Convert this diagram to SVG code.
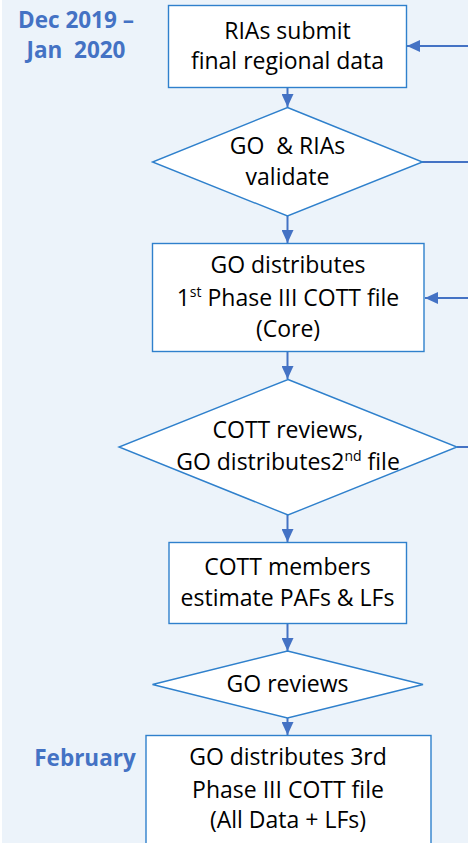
<svg xmlns="http://www.w3.org/2000/svg" width="468" height="843" viewBox="0 0 468 843">
<style>
.node{fill:#ffffff;stroke:#2f80cc;stroke-width:1.4}
.t{font-family:"Open Sans","Liberation Sans",sans-serif;font-size:23px;fill:#000;text-anchor:middle}
.lbl{font-family:"Open Sans","Liberation Sans",sans-serif;font-size:22.5px;font-weight:bold;fill:#4472c4;text-anchor:middle}
.c{stroke:#4472c4;stroke-width:2;fill:none}
.sup{font-size:14px}
</style>
<defs>
<marker id="ah" markerWidth="13" markerHeight="12" refX="13" refY="6" orient="auto" markerUnits="userSpaceOnUse">
<path d="M0,0 L13,6 L0,12 Z" fill="#4472c4"/>
</marker>
</defs>
<rect x="0" y="0" width="468" height="843" fill="#ffffff"/>
<rect x="2" y="0" width="466" height="843" fill="#ecf3fa"/>
<g id="labels">
<text class="lbl" x="76" y="28">Dec 2019 –</text>
<text class="lbl" x="76" y="58" xml:space="preserve">Jan  2020</text>
<text class="lbl" x="85" y="766">February</text>
</g>
<g id="connectors">
<line class="c" x1="287.5" y1="87" x2="287.5" y2="107" marker-end="url(#ah)"/>
<line class="c" x1="287.5" y1="216" x2="287.5" y2="243" marker-end="url(#ah)"/>
<line class="c" x1="287.5" y1="352" x2="287.5" y2="379" marker-end="url(#ah)"/>
<line class="c" x1="287.5" y1="515" x2="287.5" y2="542" marker-end="url(#ah)"/>
<line class="c" x1="287.5" y1="623" x2="287.5" y2="651" marker-end="url(#ah)"/>
<line class="c" x1="287.5" y1="718" x2="287.5" y2="735" marker-end="url(#ah)"/>
<line class="c" x1="468" y1="46" x2="407" y2="46" marker-end="url(#ah)"/>
<line class="c" x1="422" y1="162" x2="468" y2="162"/>
<line class="c" x1="468" y1="298" x2="425" y2="298" marker-end="url(#ah)"/>
<line class="c" x1="457" y1="447" x2="468" y2="447"/>
</g>
<g id="n1">
<rect class="node" x="168.5" y="5.5" width="238" height="82"/>
<text class="t" x="287.5" y="39">RIAs submit</text>
<text class="t" x="287.5" y="69">final regional data</text>
</g>
<g id="n2">
<polygon class="node" points="287.5,107.5 422.5,162 287.5,216 152.5,162"/>
<text class="t" x="287.5" y="154" xml:space="preserve">GO  &amp; RIAs</text>
<text class="t" x="287.5" y="185">validate</text>
</g>
<g id="n3">
<rect class="node" x="152.5" y="243.5" width="271.5" height="108"/>
<text class="t" x="288" y="273">GO distributes</text>
<text class="t" x="288" y="306">1<tspan class="sup" dy="-9">st</tspan><tspan dy="9"> Phase III COTT file</tspan></text>
<text class="t" x="288" y="337">(Core)</text>
</g>
<g id="n4">
<polygon class="node" points="288,379.5 457,447 288,515 119,447"/>
<text class="t" x="288" y="438">COTT reviews,</text>
<text class="t" x="288" y="470">GO distributes2<tspan class="sup" dy="-9">nd</tspan><tspan dy="9"> file</tspan></text>
</g>
<g id="n5">
<rect class="node" x="169" y="542.5" width="237.5" height="81"/>
<text class="t" x="287.5" y="575">COTT members</text>
<text class="t" x="287.5" y="606">estimate PAFs &amp; LFs</text>
</g>
<g id="n6">
<polygon class="node" points="287.5,651 423,684.5 287.5,718 152.5,684.5"/>
<text class="t" x="287.5" y="692">GO reviews</text>
</g>
<g id="n7">
<rect class="node" x="146" y="735.5" width="285" height="120"/>
<text class="t" x="288" y="765">GO distributes 3rd</text>
<text class="t" x="288" y="798">Phase III COTT file</text>
<text class="t" x="288" y="828">(All Data + LFs)</text>
</g>
</svg>
